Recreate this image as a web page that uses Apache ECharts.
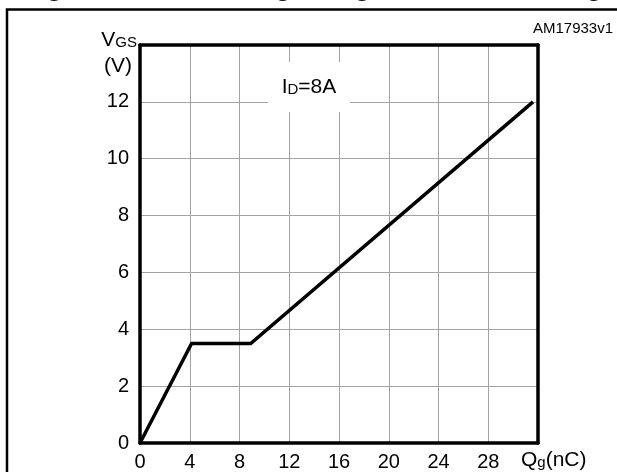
<!DOCTYPE html>
<html>
<head>
<meta charset="utf-8">
<script src="https://cdn.jsdelivr.net/npm/echarts@6/dist/echarts.min.js"></script>
<style>
html,body{margin:0;padding:0;background:#fff;}
#chart{width:617px;height:472px;}
</style>
</head>
<body>
<div id="chart"></div>
<script>
// Data
var gateChargeNC = [0, 4.15, 8.9, 31.6];
var vgsVolts = [0, 3.5, 3.5, 12];
var xTicks = [0, 4, 8, 12, 16, 20, 24, 28];
var yTicks = [0, 2, 4, 6, 8, 10, 12];
var titleText = 'Figure 7. Gate charge vs gate-source voltage';
var conditionText = 'ID=8A';
var figureId = 'AM17933v1';

var FONT = 'Liberation Sans, Arial, sans-serif';
var chart = echarts.init(document.getElementById('chart'), null, {renderer: 'canvas'});

var seriesData = gateChargeNC.map(function (x, i) { return [x, vgsVolts[i]]; });

var thick = {show: true, onZero: false, lineStyle: {color: '#000', width: 3.5}};
var grid = {lineStyle: {color: '#a3a3a3', width: 1}};

chart.setOption({
  backgroundColor: '#fff',
  animation: false,
  grid: {left: 140, top: 45, width: 398, height: 398, containLabel: false},
  xAxis: [{
    type: 'value', min: 0, max: 32, interval: 4, position: 'bottom',
    axisLine: thick, axisTick: {show: false},
    splitLine: grid,
    axisLabel: {
      color: '#000', fontFamily: FONT, fontSize: 20, margin: 9,
      formatter: function (v) { return xTicks.indexOf(v) >= 0 ? String(v) : ''; }
    }
  }, {
    type: 'value', min: 0, max: 32, interval: 4, position: 'top',
    axisLine: thick, axisTick: {show: false}, axisLabel: {show: false}, splitLine: {show: false}
  }],
  yAxis: [{
    type: 'value', min: 0, max: 14, interval: 2, position: 'left',
    axisLine: thick, axisTick: {show: false},
    splitLine: grid,
    axisLabel: {
      color: '#000', fontFamily: FONT, fontSize: 20, margin: 11,
      formatter: function (v) { return yTicks.indexOf(v) >= 0 ? String(v) : ''; }
    }
  }, {
    type: 'value', min: 0, max: 14, interval: 2, position: 'right',
    axisLine: thick, axisTick: {show: false}, axisLabel: {show: false}, splitLine: {show: false}
  }],
  series: [{
    type: 'line', xAxisIndex: 0, yAxisIndex: 0,
    data: seriesData, symbol: 'none', z: 5,
    lineStyle: {color: '#000', width: 3.5, join: 'miter'}
  }],
  graphic: [
    {type: 'text', x: 21, y: -13, silent: true,
     style: {text: titleText, font: 'bold 28px ' + FONT, fill: '#000', textVerticalAlign: 'middle', verticalAlign: 'middle'}},
    {type: 'polyline', silent: true,
     shape: {points: [[7, 700], [7, 9.5], [700, 9.5]]},
     style: {stroke: '#000', lineWidth: 2.5, fill: null}},
    {type: 'text', x: 533, y: 29, silent: true,
     style: {text: figureId, font: '15px ' + FONT, fill: '#000', verticalAlign: 'middle', textVerticalAlign: 'middle'}},
    {type: 'rect', silent: true, z: 10,
     shape: {x: 268, y: 62, width: 82, height: 50},
     style: {fill: '#fff', stroke: null}},
    {type: 'text', x: 309, y: 87, silent: true, z: 11,
     style: {
       text: '{a|I}{b|D}{a|=8A}',
       rich: {a: {fontFamily: FONT, fontSize: 21, fill: '#000', color: '#000'}, b: {fontFamily: FONT, fontSize: 15, fill: '#000', color: '#000', verticalAlign: 'bottom'}},
       align: 'center', verticalAlign: 'middle', textAlign: 'center', textVerticalAlign: 'middle'
     }},
    {type: 'text', x: 137, y: 40, silent: true,
     style: {
       text: '{a|V}{b|GS}',
       rich: {a: {fontFamily: FONT, fontSize: 21, fill: '#000', color: '#000'}, b: {fontFamily: FONT, fontSize: 15, fill: '#000', color: '#000', verticalAlign: 'bottom'}},
       align: 'right', verticalAlign: 'middle', textAlign: 'right', textVerticalAlign: 'middle'
     }},
    {type: 'text', x: 118, y: 66, silent: true,
     style: {text: '(V)', font: '21px ' + FONT, fill: '#000', align: 'center', verticalAlign: 'middle', textAlign: 'center', textVerticalAlign: 'middle'}},
    {type: 'text', x: 521, y: 460, silent: true,
     style: {
       text: '{a|Q}{b|g}{a|(nC)}',
       rich: {a: {fontFamily: FONT, fontSize: 21, fill: '#000', color: '#000'}, b: {fontFamily: FONT, fontSize: 15, fill: '#000', color: '#000', verticalAlign: 'bottom'}},
       align: 'left', verticalAlign: 'middle', textAlign: 'left', textVerticalAlign: 'middle'
     }}
  ]
});
</script>
</body>
</html>
